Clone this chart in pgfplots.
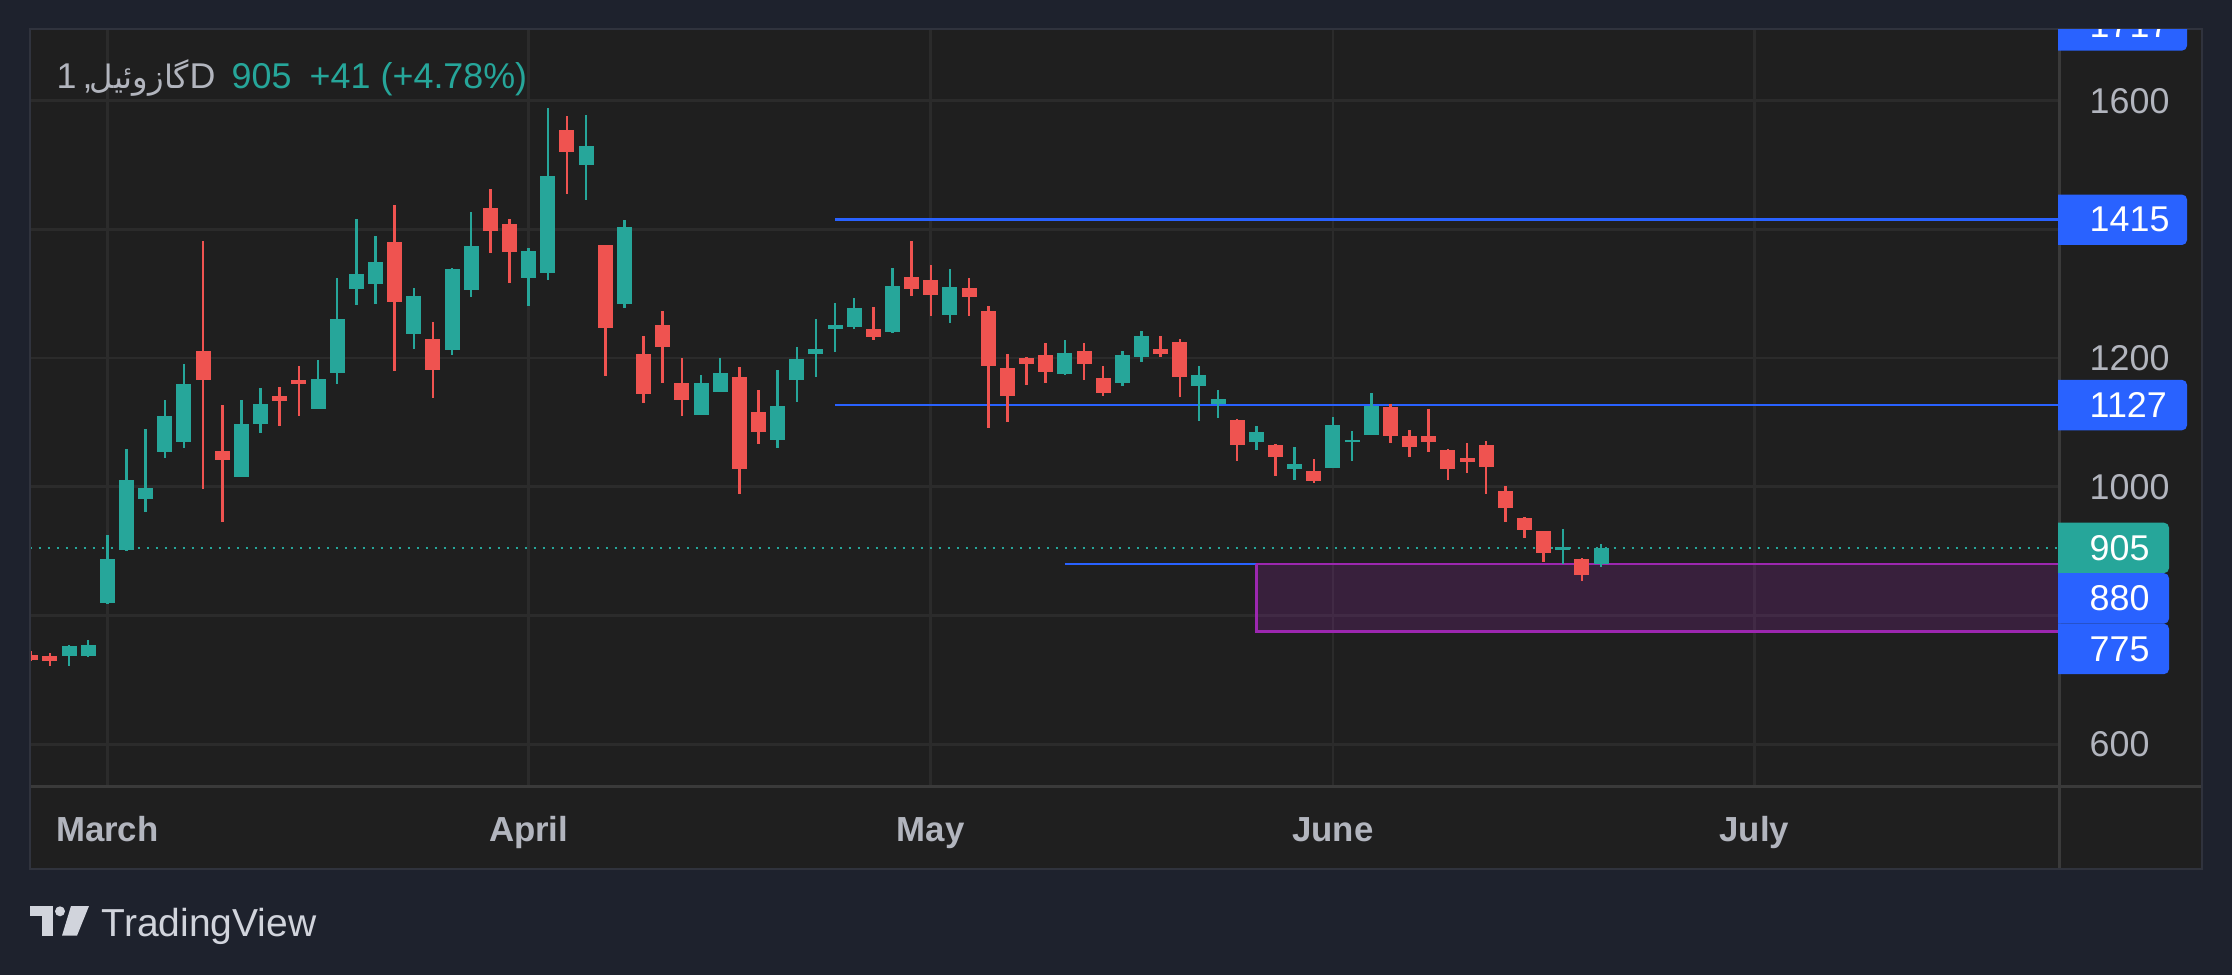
\documentclass[border=0pt]{standalone}
\usepackage{pgfplots}
\usepackage{pgfplotstable}
\pgfplotsset{compat=1.18}
\usepackage{fontspec}
\setmainfont{Liberation Sans}
\newfontfamily\arabicfont[Script=Arabic,Scale=0.9]{DejaVu Sans}
\TeXXeTstate=1
\definecolor{tvouter}{HTML}{1E222D}
\definecolor{tvpanel}{HTML}{1F1F1F}
\definecolor{tvgrid}{HTML}{2B2B2B}
\definecolor{tvsep}{HTML}{3A3A3A}
\definecolor{tvborder}{HTML}{30333D}
\definecolor{tvtext}{HTML}{B2B5BE}
\definecolor{tvlogo}{HTML}{D1D4DC}
\definecolor{tvteal}{HTML}{26A69A}
\definecolor{tvred}{HTML}{EF5350}
\definecolor{tvblue}{HTML}{2962FF}
\definecolor{tvpurple}{HTML}{9C27B0}
\newcommand\labelfont{\fontsize{10.2pt}{12pt}\selectfont}
\newcommand\monthfont{\fontsize{9.9pt}{12pt}\selectfont\bfseries}
\newcommand\titlefont{\fontsize{10.2pt}{12pt}\selectfont}
\newcommand\pricelabel[5]{% coordinate, text, color, width, yshift
  \begin{scope}[shift={(#1)}, yshift=#5]
    \fill[#3] (0,-2.52mm) [rounded corners=0.5mm] -- (#4,-2.52mm) -- (#4,2.52mm) [sharp corners] -- (0,2.52mm) -- cycle;
    \node[anchor=west, inner sep=0pt, text=white, font=\labelfont] at (3.1mm,0) {#2};
  \end{scope}}

% i = bar index (March 1st gridline = 0), O H L C prices
\pgfplotstableread{
i O H L C
-4 738 745 729 731
-3 737 742 721 730
-2 737 754 721 752
-1 737 762 735 754
0 819 925 818 888
1 902 1059 900 1010
2 981 1090 961 998
3 1054 1135 1045 1110
4 1070 1191 1060 1160
5 1211 1382 996 1166
6 1055 1127 945 1042
7 1015 1135 1015 1097
8 1097 1153 1083 1128
9 1141 1155 1094 1133
10 1166 1188 1110 1160
11 1121 1197 1121 1167
12 1177 1324 1160 1261
13 1307 1416 1282 1331
14 1315 1390 1284 1349
15 1380 1438 1180 1287
16 1237 1309 1214 1296
17 1230 1256 1138 1181
18 1212 1340 1205 1338
19 1306 1427 1295 1374
20 1433 1463 1363 1397
21 1408 1416 1317 1365
22 1324 1371 1281 1366
23 1332 1589 1321 1483
24 1554 1576 1455 1520
25 1500 1578 1446 1529
26 1376 1376 1172 1247
27 1284 1414 1278 1404
28 1206 1234 1130 1144
29 1251 1273 1161 1217
30 1161 1200 1110 1135
31 1111 1174 1111 1161
32 1147 1200 1147 1177
33 1170 1186 989 1028
34 1116 1150 1066 1085
35 1073 1181 1060 1125
36 1166 1217 1132 1198
37 1206 1261 1170 1214
38 1246 1286 1209 1251
39 1248 1293 1245 1278
40 1245 1279 1228 1233
41 1240 1340 1239 1312
42 1326 1382 1296 1307
43 1321 1345 1265 1298
44 1267 1338 1254 1310
45 1309 1324 1265 1295
46 1273 1281 1091 1188
47 1184 1206 1101 1141
48 1200 1202 1158 1191
49 1205 1223 1161 1178
50 1175 1228 1174 1208
51 1211 1223 1166 1191
52 1169 1188 1141 1146
53 1161 1211 1157 1205
54 1202 1242 1194 1234
55 1214 1234 1202 1206
56 1225 1230 1139 1170
57 1157 1188 1102 1174
58 1129 1150 1107 1136
59 1104 1105 1040 1065
60 1070 1094 1057 1085
61 1065 1066 1017 1046
62 1028 1062 1010 1035
63 1024 1043 1006 1009
64 1029 1108 1029 1096
65 1069 1087 1040 1072
66 1080 1146 1080 1126
67 1124 1129 1068 1079
68 1079 1088 1046 1062
69 1079 1121 1054 1070
70 1057 1059 1010 1028
71 1045 1068 1021 1038
72 1065 1071 989 1031
73 993 1001 945 967
74 951 953 920 933
75 931 931 883 897
76 902 934 880 906
77 888 889 853 863
78 880 911 875 905
}\candles

\begin{document}
\begin{tikzpicture}
\fill[tvouter] (0,0) rectangle (223.2mm,97.5mm);
\fill[tvpanel] (2.95mm,10.63mm) rectangle (220.2mm,94.57mm);

\begin{axis}[
  at={(3.0mm,18.9mm)}, anchor=south west,
  width=202.8mm, height=75.67mm, scale only axis,
  xmin=-4.04, xmax=101.86, ymin=535, ymax=1711,
  axis line style={draw=none},
  xtick={0,22,43,64,86}, xticklabels={March,April,May,June,July},
  ytick={600,800,1000,1200,1400,1600}, yticklabels={600,,1000,1200,,1600},
  yticklabel pos=right,
  major tick length=0pt,
  xmajorgrids, ymajorgrids,
  grid style={draw=tvgrid, line width=0.27mm},
  xticklabel style={anchor=base, yshift=-5.57mm, inner sep=0pt, font=\monthfont, text=tvtext},
  yticklabel style={anchor=west, xshift=3.1mm, inner sep=0pt, font=\labelfont, text=tvtext},
  clip=true,
]
% last price line
\addplot[tvteal, line width=0.27mm, dash pattern=on 0.27mm off 0.63mm, forget plot] coordinates {(-5,905) (110,905)};
% horizontal levels
\addplot[tvblue, line width=0.26mm, forget plot] coordinates {(38,1415) (110,1415)};
\addplot[tvblue, line width=0.26mm, forget plot] coordinates {(38,1127) (110,1127)};
\addplot[tvblue, line width=0.26mm, forget plot] coordinates {(50,880) (110,880)};
% zone
\addplot[draw=tvpurple, line width=0.27mm, fill=tvpurple, fill opacity=0.2, forget plot] coordinates {(60,880) (115,880) (115,775) (60,775) (60,880)};

% up candles: wicks and bodies
\addplot[draw=none, mark=none, forget plot,
  restrict expr to domain={\thisrow{C}-\thisrow{O}}{0:10000},
  error bars/.cd, y dir=both, y explicit, error mark=none,
  error bar style={draw=tvteal, line width=0.25mm}]
  table[x=i, y expr={(\thisrow{H}+\thisrow{L})/2}, y error expr={(\thisrow{H}-\thisrow{L})/2}] {\candles};
\addplot[draw=none, mark=none, forget plot,
  restrict expr to domain={\thisrow{C}-\thisrow{O}}{0:10000},
  error bars/.cd, y dir=both, y explicit, error mark=none,
  error bar style={draw=tvteal, line width=1.5mm}]
  table[x=i, y expr={(\thisrow{O}+\thisrow{C})/2}, y error expr={abs(\thisrow{C}-\thisrow{O})/2}] {\candles};
% down candles
\addplot[draw=none, mark=none, forget plot,
  restrict expr to domain={\thisrow{C}-\thisrow{O}}{-10000:-0.5},
  error bars/.cd, y dir=both, y explicit, error mark=none,
  error bar style={draw=tvred, line width=0.25mm}]
  table[x=i, y expr={(\thisrow{H}+\thisrow{L})/2}, y error expr={(\thisrow{H}-\thisrow{L})/2}] {\candles};
\addplot[draw=none, mark=none, forget plot,
  restrict expr to domain={\thisrow{C}-\thisrow{O}}{-10000:-0.5},
  error bars/.cd, y dir=both, y explicit, error mark=none,
  error bar style={draw=tvred, line width=1.5mm}]
  table[x=i, y expr={(\thisrow{O}+\thisrow{C})/2}, y error expr={abs(\thisrow{C}-\thisrow{O})/2}] {\candles};

\coordinate (L1717) at (axis cs:101.86,1717);
\coordinate (L1415) at (axis cs:101.86,1415);
\coordinate (L1127) at (axis cs:101.86,1127);
\coordinate (L905) at (axis cs:101.86,905);
\end{axis}

% separators and border
\draw[tvsep, line width=0.3mm] (205.95mm,10.63mm) -- (205.95mm,94.57mm);
\draw[tvsep, line width=0.3mm] (2.95mm,18.85mm) -- (220.2mm,18.85mm);
\draw[tvborder, line width=0.2mm] (2.95mm,10.63mm) rectangle (220.2mm,94.57mm);

% price scale labels
\begin{scope}
\clip (2.95mm,10.63mm) rectangle (220.2mm,94.57mm);
\pricelabel{L1717}{1717}{tvblue}{12.9mm}{0mm}
\pricelabel{L1415}{1415}{tvblue}{12.9mm}{0mm}
\pricelabel{L1127}{1127}{tvblue}{12.9mm}{0mm}
\pricelabel{L905}{905}{tvteal}{11.1mm}{0mm}
\pricelabel{L905}{880}{tvblue}{11.1mm}{-5.05mm}
\pricelabel{L905}{775}{tvblue}{11.1mm}{-10.1mm}
\end{scope}

% legend / title
\node[anchor=base west, inner sep=0pt, text=tvtext, font=\titlefont] at (5.6mm,88.6mm) {1};
\node[anchor=base west, inner sep=0pt, text=tvtext, font=\titlefont] at (8.2mm,88.6mm) {,};
\node[anchor=base east, inner sep=0pt, text=tvtext, font=\titlefont] at (19.0mm,88.6mm) {\arabicfont\beginR گازوئیل\endR};
\node[anchor=base west, inner sep=0pt, text=tvtext, font=\titlefont] at (18.9mm,88.6mm) {D};
\node[anchor=base west, inner sep=0pt, text=tvteal, font=\titlefont] at (23.1mm,88.6mm) {905};
\node[anchor=base west, inner sep=0pt, text=tvteal, font=\titlefont] at (30.9mm,88.6mm) {+41};
\node[anchor=base west, inner sep=0pt, text=tvteal, font=\titlefont] at (38.0mm,88.6mm) {(+4.78\%)};

% TradingView logo
\fill[tvlogo] (3.0mm,5.95mm) rectangle (5.26mm,6.9mm);
\fill[tvlogo] (4.15mm,3.93mm) rectangle (5.26mm,6.9mm);
\fill[tvlogo] (6.0mm,6.37mm) circle (0.5mm);
\fill[tvlogo] (7.1mm,6.9mm) -- (8.9mm,6.9mm) -- (7.7mm,3.93mm) -- (6.2mm,3.93mm) -- cycle;
\node[anchor=base west, inner sep=0pt, text=tvlogo, font=\fontsize{11.1pt}{13pt}\selectfont] at (10.1mm,3.83mm) {TradingView};

\pgfresetboundingbox
\useasboundingbox (0,0) rectangle (223.2mm,97.5mm);
\end{tikzpicture}
\end{document}
